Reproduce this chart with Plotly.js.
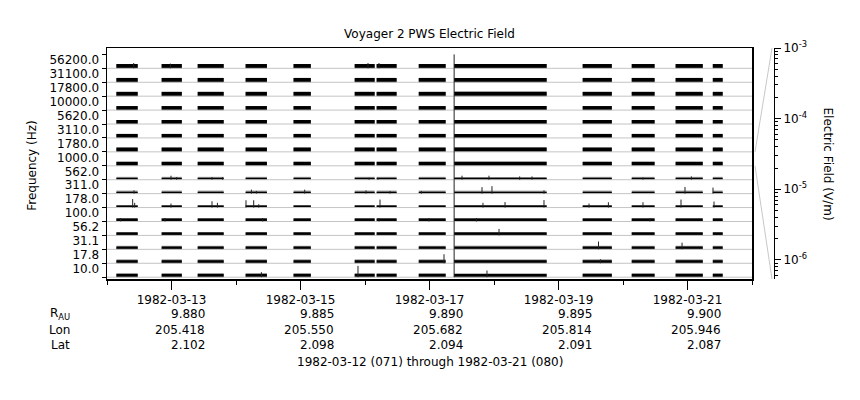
<!DOCTYPE html>
<html><head><meta charset="utf-8">
<script src="https://cdn.plot.ly/plotly-3.0.1.min.js"></script>
<style>html,body{margin:0;padding:0;background:#fff}#chart{width:860px;height:400px}</style>
</head><body><div id="chart"></div>
<script>
// ---------------- DATA ----------------
const freqLabels = ['10.0','17.8','31.1','56.2','100.0','178.0','311.0','562.0','1000.0','1780.0','3110.0','5620.0','10000.0','17800.0','31100.0','56200.0'];

const segStart = ['1982-03-12 03:30','1982-03-12 20:20','1982-03-13 09:45','1982-03-14 03:35','1982-03-14 21:25','1982-03-15 20:10','1982-03-16 04:20','1982-03-16 20:00','1982-03-17 09:10','1982-03-19 09:00','1982-03-20 03:15','1982-03-20 19:35','1982-03-21 09:25'];
const segEnd   = ['1982-03-12 11:25','1982-03-13 03:50','1982-03-13 19:25','1982-03-14 11:30','1982-03-15 03:50','1982-03-16 03:35','1982-03-16 11:45','1982-03-17 06:00','1982-03-18 19:35','1982-03-19 19:50','1982-03-20 11:45','1982-03-21 05:40','1982-03-21 13:05'];

// typical field level per channel (V/m): dense core and ragged upper envelope
const blackE = [3.2e-6,2.7e-6,2.3e-6,2.7e-6,2.7e-6,1.6e-6,1.35e-6,1.35e-6,4.7e-6,5.5e-6,4.7e-6,4.7e-6,4.7e-6,5.5e-6,5.5e-6,5.5e-6];
const grayE  = [4.2e-6,4.2e-6,3.6e-6,3.2e-6,3.2e-6,2.1e-6,2.7e-6,2.5e-6,4.7e-6,5.5e-6,4.7e-6,4.7e-6,4.7e-6,5.5e-6,5.5e-6,5.5e-6];

// individual bursts: channel index, time, field (V/m)
const spikeChan = [
  0,1,2,3,4,5,6,7,8,9,10,11,12,13,14,15,
  7,7,7,7,7,7,7,7,7,7,7,7,
  6,6,6,6,6,6,6,6,6,6,6,6,
  5,5,5,5,5,5,5,5,5,5,5,5,5,5,5,5,5,
  4,4,4,4,4,4,4,
  3,2,2,1,1,0,0,0,
  15,15,15,15
];
const spikeTime = [
  '1982-03-17 09:10','1982-03-17 09:10','1982-03-17 09:10','1982-03-17 09:10','1982-03-17 09:10','1982-03-17 09:10','1982-03-17 09:10','1982-03-17 09:10',
  '1982-03-17 09:10','1982-03-17 09:10','1982-03-17 09:10','1982-03-17 09:10','1982-03-17 09:10','1982-03-17 09:10','1982-03-17 09:10','1982-03-17 09:10',
  '1982-03-12 23:49','1982-03-13 01:56','1982-03-13 15:04','1982-03-13 19:03','1982-03-16 01:29','1982-03-16 04:51','1982-03-17 12:06','1982-03-17 22:08','1982-03-18 09:33','1982-03-18 14:08','1982-03-20 07:26','1982-03-21 01:26',
  '1982-03-12 10:03','1982-03-14 05:44','1982-03-14 07:35','1982-03-15 01:34','1982-03-16 00:23','1982-03-16 09:18','1982-03-16 20:59','1982-03-17 19:32','1982-03-17 23:15','1982-03-18 18:36','1982-03-20 23:04','1982-03-21 09:29',
  '1982-03-12 09:33','1982-03-12 10:18','1982-03-12 23:49','1982-03-13 15:04','1982-03-13 17:05','1982-03-14 03:43','1982-03-14 06:35','1982-03-14 08:27','1982-03-16 05:35','1982-03-17 19:54','1982-03-18 04:06','1982-03-18 18:36','1982-03-19 11:21','1982-03-19 18:34','1982-03-20 07:26','1982-03-20 21:35','1982-03-21 09:52',
  '1982-03-12 05:06','1982-03-12 21:35','1982-03-14 09:56','1982-03-16 05:13','1982-03-16 23:49','1982-03-17 17:27','1982-03-20 10:03',
  '1982-03-18 01:52','1982-03-19 14:53','1982-03-20 21:58','1982-03-17 05:24','1982-03-19 15:36','1982-03-14 09:27','1982-03-15 21:23','1982-03-17 21:23',
  '1982-03-12 09:56','1982-03-12 23:35','1982-03-16 01:07','1982-03-16 05:13'
];
const spikeE = [
  1e-3,1e-3,1e-3,1e-3,1e-3,1e-3,1e-3,1e-3,1e-3,1e-3,1e-3,1e-3,1e-3,1e-3,1e-3,1e-3,
  4.7e-6,2.3e-6,2.3e-6,2.3e-6,1.6e-6,1.6e-6,4.7e-6,4.7e-6,3.2e-6,3.2e-6,1.9e-6,3.2e-6,
  3.2e-6,4.7e-6,2.3e-6,4.7e-6,3.2e-6,2.3e-6,2.3e-6,1.8e-5,3.1e-5,3.2e-6,2.0e-5,1.4e-5,
  5.4e-5,6.9e-6,4.7e-6,1.6e-5,6.9e-6,2.8e-5,2.8e-5,3.2e-6,4.1e-5,6.9e-6,1.06e-5,3.1e-5,4.7e-6,9.5e-6,9.5e-6,4.1e-5,1.4e-5,
  3.6e-6,3.6e-6,3.6e-6,3.6e-6,3.6e-6,3.6e-6,3.6e-6,
  1.8e-5,3.7e-5,2.0e-5,7.1e-5,4.7e-6,8.1e-6,2.5e-4,2.0e-5,
  9.5e-6,6.9e-6,9.5e-6,9.5e-6
];

const ephemDates = ['1982-03-13','1982-03-15','1982-03-17','1982-03-19','1982-03-21'];
const ephemR   = ['9.880','9.885','9.890','9.895','9.900'];
const ephemLon = ['205.418','205.550','205.682','205.814','205.946'];
const ephemLat = ['2.102','2.098','2.094','2.091','2.087'];
const ephemRowLabels = ['R<sub>AU</sub>','Lon','Lat'];

const eTickVals = [1e-6,1e-5,1e-4,1e-3];
const eTickText = ['10<sup>-6</sup>','10<sup>-5</sup>','10<sup>-4</sup>','10<sup>-3</sup>'];

const titleText = 'Voyager 2 PWS Electric Field';
const footerText = '1982-03-12 (071) through 1982-03-21 (080)';
const xStart = '1982-03-12', xEnd = '1982-03-22';

// ---------------- GEOMETRY / HELPERS ----------------
const LOG_MIN = -6.27, LOG_MAX = -3;
const W = 860, H = 400, ML = 107, MR = 70, MT = 48, MB = 121;
const PW = W - ML - MR;
const plotRight = 752;
const xDomEnd = (plotRight - ML) / PW;
const Y0 = -0.13, Y1 = 16.46;
const FONT = 'DejaVu Sans, Liberation Sans, sans-serif';

function bandHeight(E) {
  const u = (Math.log10(E) - LOG_MIN) / (LOG_MAX - LOG_MIN);
  return Math.max(0, Math.min(1, u));
}
function toMs(s) { return Date.parse(s.replace(' ', 'T') + ':00Z'); }
function msToStr(ms) { return new Date(ms).toISOString().slice(0, 19).replace('T', ' '); }

// ---------------- TRACES ----------------
const grid = {x: [], y: []};
for (let c = 0; c < freqLabels.length; c++) {
  grid.x.push(xStart, xEnd, null); grid.y.push(c, c, null);
}
const gridTrace = {type: 'scatter', mode: 'lines', x: grid.x, y: grid.y,
  line: {color: '#c4c4c4', width: 1}, hoverinfo: 'skip', showlegend: false};

function barTrace(levels, color) {
  const x = [], w = [], b = [], y = [];
  for (let c = 0; c < freqLabels.length; c++) {
    for (let s = 0; s < segStart.length; s++) {
      const a = toMs(segStart[s]), e = toMs(segEnd[s]);
      x.push(msToStr((a + e) / 2)); w.push(e - a); b.push(c); y.push(bandHeight(levels[c]));
    }
  }
  return {type: 'bar', x: x, y: y, base: b, width: w, marker: {color: color, line: {width: 0}},
    hoverinfo: 'skip', showlegend: false};
}

const sx = [], sy = [];
for (let i = 0; i < spikeChan.length; i++) {
  sx.push(spikeTime[i], spikeTime[i], null);
  sy.push(spikeChan[i], spikeChan[i] + bandHeight(spikeE[i]), null);
}
const spikeTrace = {type: 'scatter', mode: 'lines', x: sx, y: sy,
  line: {color: '#222', width: 1}, hoverinfo: 'skip', showlegend: false};

const dummyE = {type: 'scatter', mode: 'markers', x: [xStart], y: [1e-4], yaxis: 'y2',
  marker: {opacity: 0}, hoverinfo: 'skip', showlegend: false};

// ---------------- LAYOUT ----------------
const minorE = [];
for (let p = -7; p <= -4; p++) for (let m = 2; m <= 9; m++) minorE.push(m * Math.pow(10, p));

const annotations = [];
const rows = [ephemR, ephemLon, ephemLat];
const rowY = [-35, -50.5, -66];
rows.forEach((vals, r) => {
  vals.forEach((v, i) => annotations.push({xref: 'x', yref: 'paper', x: ephemDates[i], y: 0,
    xanchor: 'right', yanchor: 'middle', xshift: 35, yshift: rowY[r], text: v, showarrow: false,
    font: {family: FONT, size: 12, color: '#000'}}));
  annotations.push({xref: 'paper', yref: 'paper', x: 0, y: 0, xanchor: 'right', yanchor: 'middle',
    xshift: -35, yshift: rowY[r], text: ephemRowLabels[r], showarrow: false,
    font: {family: FONT, size: 12, color: '#000'}});
});
annotations.push({xref: 'paper', yref: 'paper', x: xDomEnd / 2, y: 0, xanchor: 'center', yanchor: 'middle',
  yshift: -83, text: footerText, showarrow: false, font: {family: FONT, size: 12, color: '#000'}});
annotations.push({xref: 'paper', yref: 'paper', x: 0, y: 0.49, xanchor: 'center', yanchor: 'middle',
  xshift: -75, textangle: -90, text: 'Frequency (Hz)', showarrow: false, font: {family: FONT, size: 12, color: '#000'}});
annotations.push({xref: 'paper', yref: 'paper', x: (828 - ML) / PW, y: 0.5, xanchor: 'center', yanchor: 'middle',
  textangle: 90, text: 'Electric Field (V/m)', showarrow: false, font: {family: FONT, size: 12, color: '#000'}});

const yFrac = v => (v - Y0) / (Y1 - Y0);
const scaleBand = 8;
const connX0 = (755 - ML) / PW, connX1 = (772 - ML) / PW;
const shapes = [
  {type: 'line', xref: 'paper', yref: 'paper', x0: connX0, y0: yFrac(scaleBand + 1), x1: connX1, y1: 1, line: {color: '#c8c8c8', width: 1}},
  {type: 'line', xref: 'paper', yref: 'paper', x0: connX0, y0: yFrac(scaleBand), x1: connX1, y1: 0, line: {color: '#c8c8c8', width: 1}}
];

const layout = {
  width: W, height: H,
  margin: {l: ML, r: MR, t: MT, b: MB, pad: 0},
  paper_bgcolor: '#fff', plot_bgcolor: '#fff',
  font: {family: FONT, size: 12, color: '#000'},
  title: {text: titleText, font: {family: FONT, size: 12, color: '#000'},
    xref: 'paper', x: xDomEnd / 2, xanchor: 'center', yref: 'container', y: 1 - 34 / H, yanchor: 'middle'},
  barmode: 'overlay',
  showlegend: false,
  hovermode: false,
  xaxis: {type: 'date', range: [xStart, xEnd], domain: [0, xDomEnd],
    showline: true, mirror: true, linecolor: '#000', linewidth: 1.5,
    showgrid: false, zeroline: false,
    tickmode: 'linear', tick0: ephemDates[0], dtick: 2 * 86400000, tickformat: '%Y-%m-%d',
    ticks: 'outside', ticklen: 9, tickcolor: '#000', tickwidth: 1,
    tickfont: {family: FONT, size: 12, color: '#000'},
    minor: {tickmode: 'linear', tick0: xStart, dtick: 86400000, ticks: 'outside', ticklen: 4, tickcolor: '#000', showgrid: false}},
  yaxis: {range: [Y0, Y1], showline: true, mirror: true, linecolor: '#000', linewidth: 1.5,
    showgrid: false, zeroline: false,
    tickmode: 'array', tickvals: freqLabels.map((_, i) => i + 0.6), ticktext: freqLabels,
    ticks: 'outside', ticklen: 4, tickcolor: 'rgba(0,0,0,0)',
    tickfont: {family: FONT, size: 12, color: '#000'},
    minor: {tickmode: 'array', tickvals: freqLabels.map((_, i) => i).concat([freqLabels.length]),
      ticks: 'outside', ticklen: 4, tickcolor: '#000', showgrid: false}},
  yaxis2: {type: 'log', range: [LOG_MIN, LOG_MAX], overlaying: 'y', anchor: 'free',
    position: (774 - ML) / PW, side: 'right',
    showline: true, linecolor: '#000', linewidth: 1, showgrid: false, zeroline: false,
    tickmode: 'array', tickvals: eTickVals, ticktext: eTickText,
    ticks: 'outside', ticklen: 6, tickcolor: '#000',
    tickfont: {family: FONT, size: 12, color: '#000'},
    minor: {tickmode: 'array', tickvals: minorE, ticks: 'outside', ticklen: 3, tickcolor: '#000', showgrid: false}},
  annotations: annotations,
  shapes: shapes
};

Plotly.newPlot('chart', [gridTrace, barTrace(grayE, '#7a7a7a'), barTrace(blackE, '#000'), spikeTrace, dummyE], layout,
  {staticPlot: true, displayModeBar: false});
</script>
</body></html>
